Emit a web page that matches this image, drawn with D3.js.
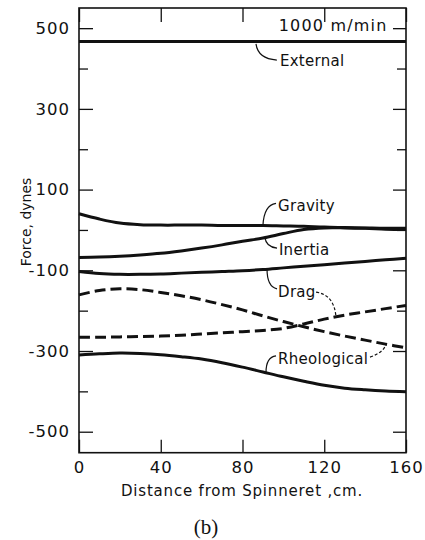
<!DOCTYPE html>
<html><head><meta charset="utf-8">
<script src="https://cdn.jsdelivr.net/npm/d3@7"></script>
<style>
body{margin:0;background:#fff;}
svg text{font-family:"DejaVu Sans",sans-serif;fill:#111;}
</style></head>
<body>
<svg id="chart" width="425" height="540"></svg>
<script>
// ---- data ----
const distance = [0,10,20,30,40,50,60,70,80,90,100,110,120,130,140,150,160];
const external = [467,467,467,467,467,467,467,467,467,467,467,467,467,467,467,467,467];
const gravity  = [40,27,17,13,12,12,12,11,11,11,10,9,7,6,5,4,4];
const inertia  = [-68,-67,-65,-62,-58,-52,-45,-37,-28,-20,-9,1,5,5,4,2,1];
const dragSolid = [-103,-108,-110,-110,-109,-107,-105,-103,-101,-98,-94,-90,-86,-82,-78,-74,-70];
const dashedUpper = [-161,-150,-146,-148,-155,-163,-173,-185,-198,-213,-227,-240,-252,-263,-273,-283,-292];
const dashedLower = [-266,-266,-265,-264,-263,-261,-258,-255,-252,-249,-244,-233,-221,-211,-203,-195,-187];
const rheological = [-310,-307,-305,-306,-309,-314,-320,-329,-340,-352,-364,-375,-385,-392,-396,-399,-401];
const xTicks = [0,40,80,120,160];
const yMajor = [500,300,100,-100,-300,-500];
const yMinor = [400,200,0,-200,-400];
const seriesNames = ["External","Gravity","Inertia","Drag","Rheological"];

const W=425,H=540, m={l:79,r:19,t:8,b:87.3};
const svg=d3.select("#chart");
svg.append("rect").attr("width",W).attr("height",H).attr("fill","#fff");
const x=d3.scaleLinear().domain([0,160]).range([m.l,W-m.r]);
const y=d3.scaleLinear().domain([-552,550]).range([H-m.b,m.t]);

// axes
const gL=svg.append("g").attr("transform",`translate(${m.l},0)`)
  .call(d3.axisLeft(y).tickValues(yMajor).tickSize(-14).tickPadding(9).tickFormat(d=>String(d)));
const gLm=svg.append("g").attr("transform",`translate(${m.l},0)`)
  .call(d3.axisLeft(y).tickValues(yMinor).tickSize(-9).tickFormat(""));
const gR=svg.append("g").attr("transform",`translate(${W-m.r},0)`)
  .call(d3.axisRight(y).tickValues(yMajor).tickSize(-13).tickFormat(""));
const gRm=svg.append("g").attr("transform",`translate(${W-m.r},0)`)
  .call(d3.axisRight(y).tickValues(yMinor).tickSize(-9).tickFormat(""));
const gB=svg.append("g").attr("transform",`translate(0,${H-m.b})`)
  .call(d3.axisBottom(x).tickValues(xTicks).tickSize(-13).tickPadding(9).tickFormat(d=>String(d)));
const gT=svg.append("g").attr("transform",`translate(0,${m.t})`)
  .call(d3.axisTop(x).tickValues(xTicks).tickSize(-14).tickFormat(""));
[gL,gLm,gR,gRm,gB,gT].forEach(g=>{
  g.select(".domain").remove();
  g.selectAll("line").attr("stroke","#111").attr("stroke-width",1.3);
  g.selectAll("text").attr("font-size",16.5).attr("letter-spacing",1).attr("fill","#111")
   .attr("font-family","DejaVu Sans");
});
svg.append("rect").attr("x",m.l).attr("y",m.t).attr("width",W-m.l-m.r).attr("height",H-m.t-m.b)
  .attr("fill","none").attr("stroke","#111").attr("stroke-width",1.6);

// lines
const line=d3.line().x((d,i)=>x(distance[i])).y(d=>y(d)).curve(d3.curveCatmullRom);
const series=[
  {v:external,dash:null},{v:gravity,dash:null},{v:inertia,dash:null},
  {v:dragSolid,dash:null},{v:rheological,dash:null},
  {v:dashedUpper,dash:"11,5"},{v:dashedLower,dash:"11,5"}];
series.forEach(s=>{
  svg.append("path").datum(s.v).attr("d",line).attr("fill","none")
    .attr("stroke","#111").attr("stroke-width",3)
    .attr("stroke-dasharray",s.dash);
});

// labels & leaders (data coordinates)
const labels=[
  {t:seriesNames[0],x:98.3,y:406},
  {t:seriesNames[1],x:97.4,y:47},
  {t:seriesNames[2],x:97.8,y:-62},
  {t:seriesNames[3],x:97.4,y:-166},
  {t:seriesNames[4],x:97.4,y:-332}];
labels.forEach(l=>svg.append("text").attr("x",x(l.x)).attr("y",y(l.y))
  .attr("font-size",15).attr("letter-spacing",0.3).text(l.t));
const leaders=[
  {p:[[86.6,461],[87.6,424],[96.8,421]],d:null},
  {p:[[90,11],[90.5,62],[96.4,66]],d:null},
  {p:[[91,-19],[91.5,-42],[96.9,-45]],d:null},
  {p:[[92,-97],[92,-141],[96.9,-146]],d:null},
  {p:[[116,-154],[124.8,-161],[125.7,-214]],d:"3,2"},
  {p:[[91.5,-353],[91.5,-315],[96.4,-312]],d:null},
  {p:[[142.4,-315],[149.2,-303],[150.2,-283]],d:"3,2"}];
leaders.forEach(L=>{
  const [a,c,b]=L.p;
  svg.append("path").attr("d",`M${x(a[0])},${y(a[1])}Q${x(c[0])},${y(c[1])} ${x(b[0])},${y(b[1])}`)
    .attr("fill","none").attr("stroke","#111").attr("stroke-width",1.2).attr("stroke-dasharray",L.d);
});

svg.append("text").attr("x",x(151)).attr("y",y(493)).attr("text-anchor","end")
  .attr("font-size",16).attr("letter-spacing",1.2).text("1000 m/min");

// axis titles
svg.append("text").attr("transform",`translate(31,222) rotate(-90)`).attr("text-anchor","middle")
  .attr("font-size",14).text("Force, dynes");
svg.append("text").attr("x",242).attr("y",496).attr("text-anchor","middle")
  .attr("font-size",15).attr("letter-spacing",0.8).text("Distance from Spinneret ,cm.");
svg.append("text").attr("x",206).attr("y",534).attr("text-anchor","middle")
  .attr("font-family","Liberation Serif").style("font-family","Liberation Serif")
  .attr("font-size",21).text("(b)");
</script>
</body></html>
